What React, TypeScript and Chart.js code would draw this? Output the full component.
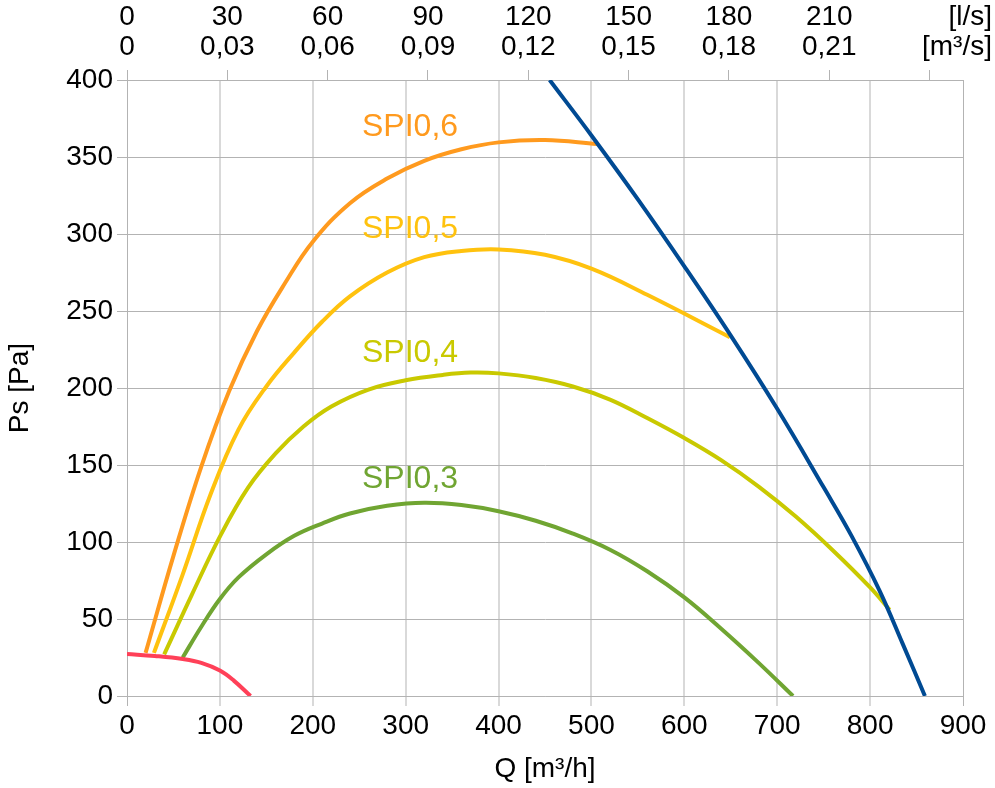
import React, { useEffect, useRef } from 'react';
import { Chart, registerables } from 'chart.js';

Chart.register(...registerables);

// Bottom axis Q [m³/h]
const qMin = 0;
const qMax = 900;
const qStep = 100;
// Left axis Ps [Pa]
const psMin = 0;
const psMax = 400;
const psStep = 50;
// Top axis: l/s (900 m³/h = 250 l/s)
const lsMax = 250;
const topTickValues = [0, 30, 60, 90, 120, 150, 180, 210, 240];
const topLabelsLs = ['0', '30', '60', '90', '120', '150', '180', '210', ''];
const topLabelsM3s = ['0', '0,03', '0,06', '0,09', '0,12', '0,15', '0,18', '0,21', ''];
const unitLs = '[l/s]';
const unitM3s = '[m³/s]';

// Curves: Q [m³/h] and Ps [Pa]
const redQ = [0, 30, 60, 80, 100, 115, 133];
const redPs = [27.3, 26, 24, 21.5, 16.5, 10, 0];

const spi06Q = [20, 50, 80, 110, 140, 170, 200, 240, 280, 320, 360, 400, 450, 506];
const spi06Ps = [28, 91, 149, 198, 237, 268, 295, 320, 336, 347.5, 355, 359.5, 361, 358.5];

const spi05Q = [29, 60, 90, 120, 150, 180, 210, 240, 280, 320, 360, 400, 450, 500, 560, 649];
const spi05Ps = [28, 79, 131, 173, 201, 223, 243, 259.5, 275, 285, 289, 290, 286.5, 277.5, 260.5, 233];

const spi04Q = [40, 70, 100, 130, 160, 190, 220, 260, 300, 340, 370, 400, 440, 480, 520, 560, 600, 640, 680, 720, 760, 800, 821];
const spi04Ps = [27, 66, 103.5, 135, 157.5, 175, 188, 199, 205, 208.5, 210, 209.5, 206.5, 201, 192.5, 180.5, 167.5, 153, 136, 116.5, 94.5, 70.5, 56];

const spi03Q = [60, 80, 100, 120, 150, 180, 210, 240, 280, 320, 360, 400, 440, 480, 520, 560, 600, 640, 680, 717];
const spi03Ps = [25, 45, 63, 77, 92, 104, 112, 118.5, 123.5, 125.5, 124, 120, 113.8, 105.5, 95, 81, 64, 43.5, 21.5, 0];

const blueQ = [455, 500, 550, 600, 650, 700, 750, 780, 810, 835, 859];
const bluePs = [400, 364, 322.5, 279, 234, 186.5, 135.5, 104, 68.6, 34, 0];

const curveLabels = ['SPI0,6', 'SPI0,5', 'SPI0,4', 'SPI0,3'];
const curveLabelQ = [253, 253, 253, 253];
const curveLabelPs = [363.6, 297.2, 217, 135];

const colRed = '#ff4058';
const colOrange = '#ff9a1e';
const colYellow = '#ffc20e';
const colYellowGreen = '#c9c900';
const colGreen = '#70a532';
const colBlue = '#004a93';
const labelColors = [colOrange, colYellow, colYellowGreen, colGreen];

const toPts = (qs: number[], ps: number[]) => qs.map((x, i) => ({ x, y: ps[i] }));

const FONT = '"Liberation Sans", Arial, sans-serif';
const TICK_SIZE = 28;

export default function App() {
  const ref = useRef<HTMLCanvasElement | null>(null);

  useEffect(() => {
    document.body.style.margin = '0';
    const canvas = ref.current;
    if (!canvas) return;

    const labelPlugin = {
      id: 'curveLabels',
      afterDatasetsDraw(chart: any) {
        const { ctx, scales } = chart;
        ctx.save();
        ctx.font = `32px ${FONT}`;
        ctx.textAlign = 'left';
        ctx.textBaseline = 'alphabetic';
        curveLabels.forEach((t, i) => {
          ctx.fillStyle = labelColors[i];
          ctx.fillText(t, scales.x.getPixelForValue(curveLabelQ[i]), scales.y.getPixelForValue(curveLabelPs[i]));
        });
        ctx.restore();
      },
      afterDraw(chart: any) {
        const { ctx } = chart;
        ctx.save();
        ctx.font = `${TICK_SIZE}px ${FONT}`;
        ctx.fillStyle = '#000';
        ctx.textAlign = 'right';
        ctx.textBaseline = 'alphabetic';
        ctx.fillText(unitLs, chart.width - 3, 25);
        ctx.fillText(unitM3s, chart.width - 3, 55);
        ctx.restore();
      },
    };

    const mk = (qs: number[], ps: number[], color: string) => ({
      data: toPts(qs, ps),
      showLine: true,
      borderColor: color,
      backgroundColor: color,
      borderWidth: 4,
      pointRadius: 0,
      fill: false,
      tension: 0.4,
    });

    const chart = new Chart(canvas, {
      type: 'scatter',
      data: {
        datasets: [
          mk(redQ, redPs, colRed),
          mk(blueQ, bluePs, colBlue),
          mk(spi06Q, spi06Ps, colOrange),
          mk(spi05Q, spi05Ps, colYellow),
          mk(spi04Q, spi04Ps, colYellowGreen),
          mk(spi03Q, spi03Ps, colGreen),
        ],
      },
      options: {
        animation: false,
        responsive: false,
        layout: { padding: { left: 0, right: 32, top: 0, bottom: 0 } },
        plugins: { legend: { display: false }, tooltip: { enabled: false } },
        scales: {
          x: {
            type: 'linear',
            position: 'bottom',
            min: qMin,
            max: qMax,
            afterFit: (s: any) => { s.height = 92; },
            ticks: { stepSize: qStep, color: '#000', font: { family: FONT, size: TICK_SIZE }, padding: 3, maxRotation: 0 },
            grid: {
              color: (c: any) => (c.tick && (c.tick.value === qMin || c.tick.value === qMax) ? '#b3b3b3' : '#d9d9d9'),
              lineWidth: (c: any) => (c.tick && (c.tick.value === qMin || c.tick.value === qMax) ? 1 : 2),
              tickLength: 10,
            },
            border: { color: '#b3b3b3' },
            title: { display: true, text: 'Q [m³/h]', color: '#000', font: { family: FONT, size: TICK_SIZE }, padding: { top: 0, bottom: 2 } },
          },
          xTop: {
            type: 'linear',
            position: 'top',
            min: 0,
            max: lsMax,
            afterBuildTicks: (s: any) => { s.ticks = topTickValues.map((v) => ({ value: v })); },
            afterFit: (s: any) => { s.height = 80; },
            ticks: {
              color: '#000',
              font: { family: FONT, size: TICK_SIZE, lineHeight: 1.07 },
              padding: 8,
              maxRotation: 0,
              autoSkip: false,
              callback: (v: any) => {
                const i = topTickValues.indexOf(Number(v));
                if (i < 0 || topLabelsLs[i] === '') return '';
                return [topLabelsLs[i], topLabelsM3s[i]];
              },
            },
            grid: { drawOnChartArea: false, color: '#b3b3b3', tickLength: 10 },
            border: { color: '#b3b3b3' },
          },
          y: {
            type: 'linear',
            min: psMin,
            max: psMax,
            afterFit: (s: any) => { s.width = 127; },
            ticks: { stepSize: psStep, color: '#000', font: { family: FONT, size: TICK_SIZE }, padding: 4 },
            grid: { color: '#b3b3b3', lineWidth: 1, tickLength: 10 },
            border: { color: '#b3b3b3' },
            title: { display: true, text: 'Ps [Pa]', color: '#000', font: { family: FONT, size: TICK_SIZE }, padding: { top: 3, bottom: 0 } },
          },
        },
      },
      plugins: [labelPlugin],
    } as any);

    return () => chart.destroy();
  }, []);

  return (
    <div style={{ width: 995, height: 788, background: '#fff' }}>
      <canvas ref={ref} width={995} height={788} style={{ display: 'block' }} />
    </div>
  );
}
